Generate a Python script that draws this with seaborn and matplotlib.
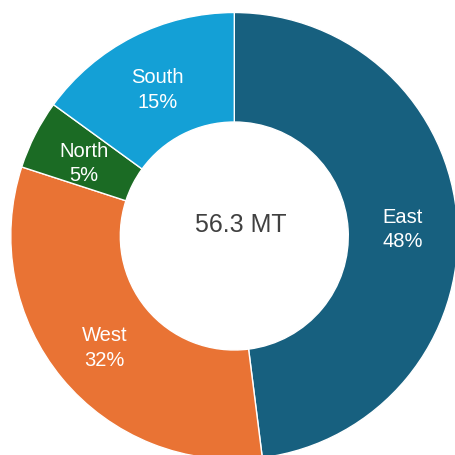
import matplotlib
matplotlib.use("Agg")
import matplotlib.pyplot as plt
import seaborn as sns
import numpy as np

# data
regions = ["East", "West", "North", "South"]
shares = [48, 32, 5, 15]
total_label = "56.3 MT"
colors = ["#17607f", "#e97334", "#1b6b24", "#14a0d6"]

sns.set_theme(style="white")
plt.rcParams["font.family"] = ["Liberation Sans", "DejaVu Sans"]

fig = plt.figure(figsize=(4.55, 4.56), dpi=100)
# place the pie so that it runs a bit past the right and bottom edges
ax = fig.add_axes([10.8 / 455, -4.5 / 456, 447 / 455, 447 / 456])

wedges, texts = ax.pie(shares, colors=sns.color_palette(colors), startangle=90,
                       counterclock=False, radius=1.0,
                       wedgeprops=dict(width=0.49, edgecolor="white", linewidth=1))

# labels in the middle of the ring
for name, val, w in zip(regions, shares, wedges):
    mid = np.deg2rad((w.theta1 + w.theta2) / 2)
    r = 0.755
    ax.text(r * np.cos(mid), r * np.sin(mid) - 0.015, f"{name}\n{val}%",
            ha="center", va="center", color="white", fontsize=14.5, linespacing=1.35)

ax.text(0.027, 0.054, total_label, ha="center", va="center", fontsize=18, color="#404040")

ax.set_xlim(-1, 1)
ax.set_ylim(-1, 1)
ax.set_aspect("auto")
ax.axis("off")

fig.savefig("out.png", dpi=100)
